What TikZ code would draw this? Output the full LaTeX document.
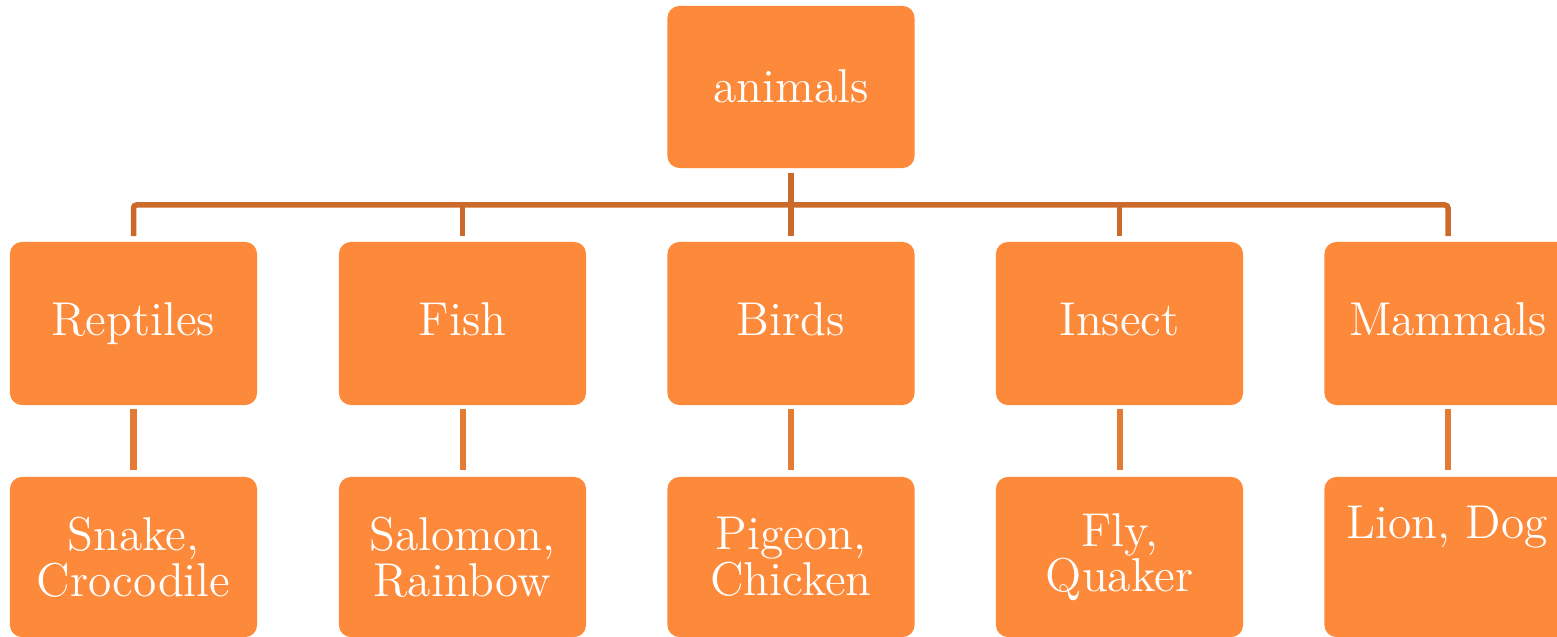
\documentclass[tikz,border=0pt]{standalone}
\usepackage{xcolor}
\definecolor{boxfill}{HTML}{FD8A3A}
\definecolor{linedark}{HTML}{CC6A2C}
\definecolor{linelight}{HTML}{E47B34}
\begin{document}
\begin{tikzpicture}[x=0.01cm,y=-0.01cm,
  box/.style={fill=boxfill,draw=none,rounded corners=0.12cm,inner sep=0pt,
    minimum width=2.47cm,text=white,align=center,
    font=\fontsize{13.5}{13}\selectfont},
  rowbox/.style={box,minimum height=1.63cm,text height=9.4pt,text depth=2.4pt},
  leafbox/.style={box,minimum height=1.60cm},
  conn/.style={draw=linedark,line width=0.055cm,rounded corners=0.03cm},
  connb/.style={draw=linelight,line width=0.06cm}]
\useasboundingbox (0,0) rectangle (1557,637);
\clip (0,0) rectangle (1557,637);
% top
\node[box,minimum height=1.62cm,text height=9.2pt,text depth=0.6pt] (top) at (791,87) {animals};
% row 2
\node[rowbox] (c1) at (133.5,323.5) {Reptiles};
\node[rowbox] (c2) at (462.5,323.5) {Fish};
\node[rowbox] (c3) at (791,323.5) {Birds};
\node[rowbox] (c4) at (1119.5,323.5) {Insect};
\node[rowbox] (c5) at (1448,323.5) {Mammals};
% row 3
\node[leafbox] (l1) at (133.5,557) {Snake,\\Crocodile};
\node[leafbox] (l2) at (462.5,557) {Salomon,\\Rainbow};
\node[leafbox] (l3) at (791,557) {Pigeon,\\Chicken};
\node[leafbox] (l4) at (1119.5,557) {Fly,\\Quaker};
\node[leafbox] (l5) at (1448,557) {};
\node[text=white,font=\fontsize{13.5}{13}\selectfont,anchor=base,inner sep=0pt] (l5t) at (1447,539) {Lion, Dog};
% connectors level 1
\coordinate (bar) at (791,205);
\draw[conn] ([yshift=-0.04cm]top.south) -- ([yshift=0.05cm]c3.north);
\draw[conn] ([yshift=0.05cm]c1.north) |- (bar) -| ([yshift=0.05cm]c5.north);
\draw[conn] ([yshift=0.05cm]c2.north) -- (c2.north |- bar);
\draw[conn] ([yshift=0.05cm]c4.north) -- (c4.north |- bar);
% connectors level 2
\foreach \i in {1,...,5}{
  \draw[connb] ([yshift=-0.03cm]c\i.south) -- ([yshift=0.06cm]l\i.north);
}
\end{tikzpicture}
\end{document}
